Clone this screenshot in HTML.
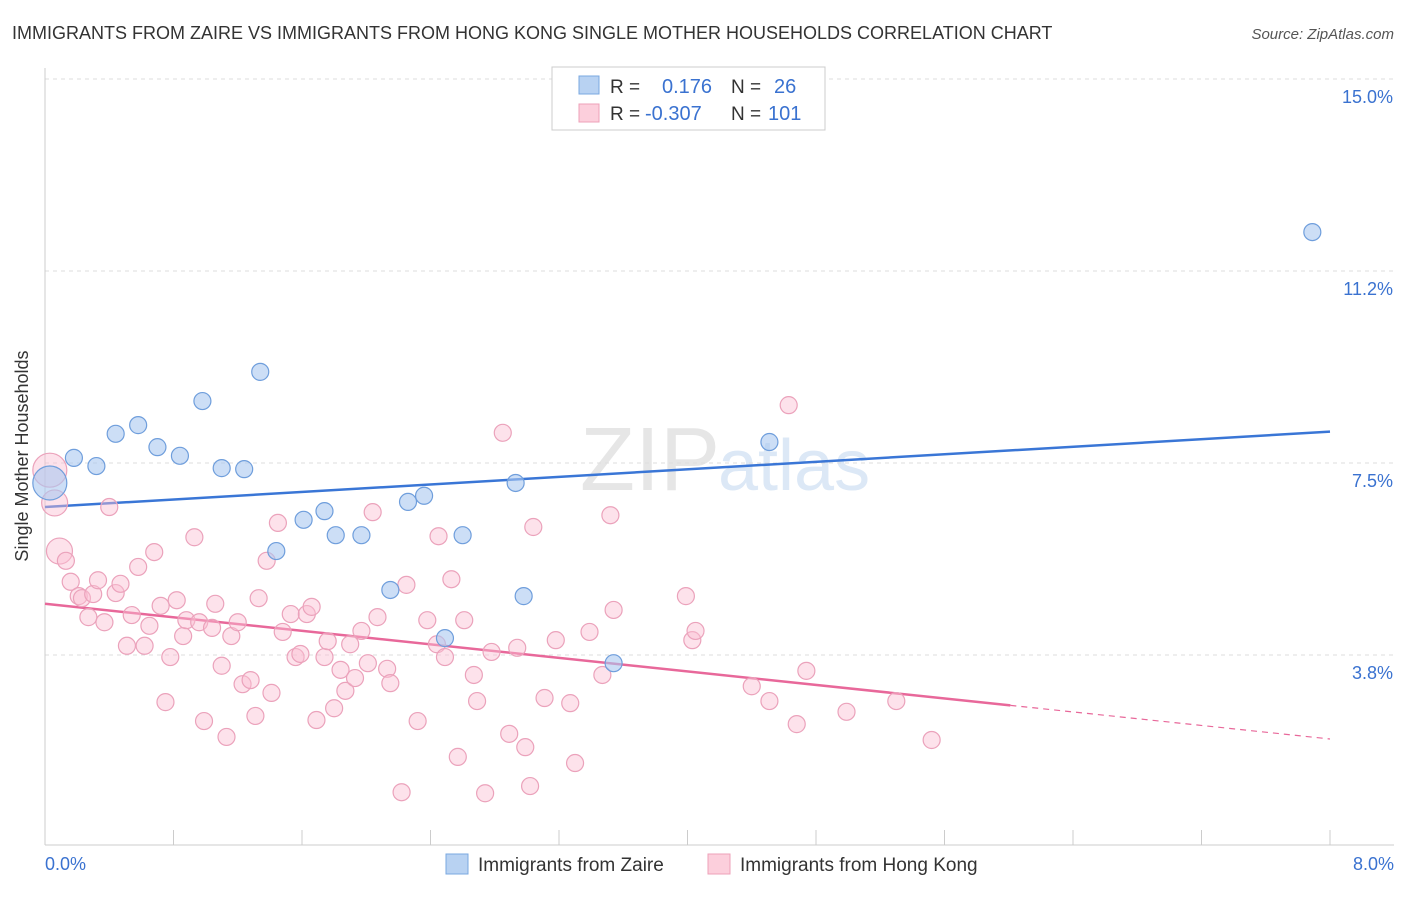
<!DOCTYPE html>
<html><head><meta charset="utf-8"><style>
body{margin:0;background:#fff;font-family:"Liberation Sans",sans-serif}
svg text{font-family:"Liberation Sans",sans-serif}
</style></head><body>
<svg id="chart" width="1406" height="892" xmlns="http://www.w3.org/2000/svg">
<text x="12" y="39" font-size="18" fill="#333">IMMIGRANTS FROM ZAIRE VS IMMIGRANTS FROM HONG KONG SINGLE MOTHER HOUSEHOLDS CORRELATION CHART</text>
<text x="1394" y="39" font-size="15" fill="#555" text-anchor="end" font-style="italic">Source: ZipAtlas.com</text>
<text x="720" y="490" font-size="90" fill="#e6e6e6" text-anchor="end" font-family="Liberation Serif">ZIP</text>
<text x="718" y="490" font-size="72" fill="#dce8f6">atlas</text>
<g id="grid"></g>
<g id="axes"></g>
<g id="lines"></g>
<g id="points"></g>
<text x="28" y="456" font-size="18" fill="#333" text-anchor="middle" transform="rotate(-90 28 456)">Single Mother Households</text>
<g>
<rect x="552" y="67" width="273" height="63" fill="#fff" stroke="#ccc"/>
<rect x="579" y="76" width="20" height="18" fill="#b8d2f2" stroke="#7aa8e0"/>
<rect x="579" y="104" width="20" height="18" fill="#fccfdc" stroke="#eea0b8"/>
<text x="610" y="93" font-size="19" fill="#333">R =</text><text x="662" y="93" font-size="20" fill="#3a72d0">0.176</text>
<text x="731" y="93" font-size="19" fill="#333">N =</text><text x="774" y="93" font-size="20" fill="#3a72d0">26</text>
<text x="610" y="120" font-size="19" fill="#333">R =</text><text x="645" y="120" font-size="20" fill="#3a72d0">-0.307</text>
<text x="731" y="120" font-size="19" fill="#333">N =</text><text x="768" y="120" font-size="20" fill="#3a72d0">101</text>
</g>
<g>
<rect x="446" y="854" width="22" height="20" fill="#b8d2f2" stroke="#7aa8e0"/>
<text x="478" y="871" font-size="19" fill="#333">Immigrants from Zaire</text>
<rect x="708" y="854" width="22" height="20" fill="#fccfdc" stroke="#eea0b8"/>
<text x="740" y="871" font-size="19" fill="#333">Immigrants from Hong Kong</text>
</g>
</svg>
<script>
const yTicks=[3.75,7.5,11.25,15];
const yTickLabels=["3.8%","7.5%","11.2%","15.0%"];
const xTickLabels=["0.0%","8.0%"];
const zaireX=[0.03,0.18,0.32,0.44,0.58,0.70,0.84,0.98,1.10,1.24,1.34,1.44,1.61,1.74,1.81,1.97,2.15,2.26,2.36,2.49,2.60,2.93,2.98,3.54,4.51,7.89];
const zaireY=[7.11,7.60,7.44,8.07,8.24,7.81,7.64,8.71,7.40,7.38,9.28,5.78,6.39,6.56,6.09,6.09,5.02,6.74,6.86,4.08,6.09,7.11,4.90,3.59,7.91,12.01];
const hkX=[0.03,0.06,0.09,0.13,0.16,0.21,0.23,0.27,0.30,0.33,0.37,0.40,0.44,0.47,0.51,0.54,0.58,0.62,0.65,0.68,0.72,0.75,0.78,0.82,0.86,0.88,0.93,0.96,0.99,1.04,1.06,1.10,1.13,1.16,1.20,1.23,1.28,1.31,1.33,1.38,1.41,1.45,1.48,1.53,1.56,1.59,1.63,1.66,1.69,1.74,1.76,1.80,1.84,1.87,1.90,1.93,1.97,2.01,2.04,2.07,2.13,2.15,2.22,2.25,2.32,2.38,2.44,2.45,2.49,2.53,2.57,2.61,2.67,2.69,2.74,2.78,2.85,2.89,2.94,2.99,3.02,3.04,3.11,3.18,3.27,3.30,3.39,3.47,3.52,3.54,3.99,4.03,4.05,4.40,4.51,4.63,4.68,4.74,4.99,5.30,5.52];
const hkY=[7.36,6.72,5.78,5.59,5.18,4.90,4.86,4.49,4.94,5.21,4.39,6.64,4.96,5.14,3.93,4.53,5.47,3.93,4.32,5.76,4.71,2.83,3.71,4.82,4.12,4.43,6.05,4.39,2.46,4.28,4.75,3.54,2.15,4.12,4.39,3.18,3.26,2.56,4.86,5.59,3.01,6.33,4.20,4.55,3.71,3.77,4.55,4.69,2.48,3.71,4.02,2.71,3.46,3.05,3.96,3.30,4.22,3.59,6.54,4.49,3.48,3.20,1.07,5.12,2.46,4.43,3.96,6.07,3.71,5.23,1.76,4.43,3.36,2.85,1.05,3.81,8.09,2.21,3.89,1.95,1.19,6.25,2.91,4.04,2.81,1.64,4.20,3.36,6.48,4.63,4.90,4.04,4.22,3.14,2.85,8.63,2.40,3.44,2.64,2.85,2.09];
const zaireFit=[6.64,0.184];
const hkFit=[4.75,-0.33];
const hkSolidEnd=6.01;

const NS="http://www.w3.org/2000/svg";
const xs=v=>45+v*160.625;
const ys=v=>847-v*51.2;
function mk(tag,attrs,parent){const e=document.createElementNS(NS,tag);for(const k in attrs)e.setAttribute(k,attrs[k]);document.getElementById(parent).appendChild(e);return e;}
yTicks.forEach((t,i)=>{
 const l=mk('line',{x1:45,x2:1394,y1:ys(t),y2:ys(t),stroke:'#ddd','stroke-dasharray':'4,4'},'grid');
 
 
 const tx=mk('text',{x:1393,y:ys(t)+24,'font-size':18,fill:'#3a72d0','text-anchor':'end'},'grid');
 tx.textContent=yTickLabels[i];
 
 
});
const ax=mk('line',{x1:45,x2:1394,y1:845,y2:845,stroke:'#ccc'},'axes');


const ay=mk('line',{x1:45,x2:45,y1:68,y2:845,stroke:'#ccc'},'axes');


for(let i=0;i<=10;i++){
 const t=mk('line',{x1:xs(i*0.8),x2:xs(i*0.8),y1:830,y2:845,stroke:'#ccc'},'axes');
 
 
}
[[0,'start',45],[8,'end',1394]].forEach((d,i)=>{
 const tx=mk('text',{x:d[2],y:870,'font-size':18,fill:'#3a72d0','text-anchor':d[1]},'axes');
 tx.textContent=xTickLabels[i];
 
 
});
const zl=mk('line',{x1:xs(0),y1:ys(zaireFit[0]),x2:xs(8),y2:ys(zaireFit[0]+8*zaireFit[1]),stroke:'#3a76d6','stroke-width':2.5},'lines');


const hl=mk('line',{x1:xs(0),y1:ys(hkFit[0]),x2:xs(hkSolidEnd),y2:ys(hkFit[0]+hkSolidEnd*hkFit[1]),stroke:'#e8689a','stroke-width':2.5},'lines');


const hd=mk('line',{x1:xs(hkSolidEnd),y1:ys(hkFit[0]+hkSolidEnd*hkFit[1]),x2:xs(8),y2:ys(hkFit[0]+8*hkFit[1]),stroke:'#e8689a','stroke-width':1.2,'stroke-dasharray':'6,5'},'lines');


hkX.forEach((x,i)=>{
 const r=i<3?(i==0?17:13):8.5;
 const c=mk('circle',{cx:xs(x),cy:ys(hkY[i]),r:r,fill:'rgba(250,190,210,0.45)',stroke:'#eba2bb','stroke-width':1.2},'points');
 
 
});
zaireX.forEach((x,i)=>{
 const r=i==0?17:8.5;
 const c=mk('circle',{cx:xs(x),cy:ys(zaireY[i]),r:r,fill:'rgba(170,200,240,0.6)',stroke:'#6f9edc','stroke-width':1.2},'points');
 
 
});
</script>
</body></html>
